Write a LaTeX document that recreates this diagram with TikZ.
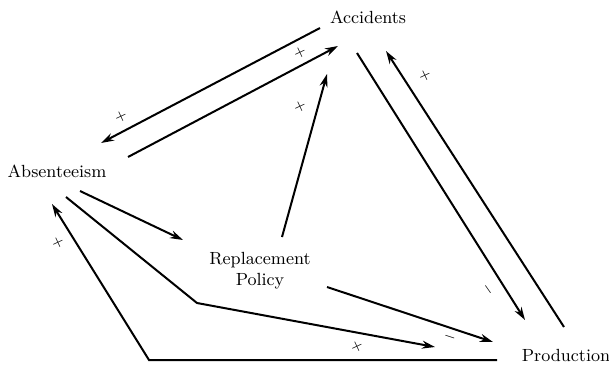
\documentclass[tikz,border=0pt]{standalone}
\usepackage{tikz}
\usetikzlibrary{arrows.meta, calc}

\begin{document}
\begin{tikzpicture}[
          x=0.5pt, y=-0.5pt,
          var/.style={inner sep=0pt, font=\fontsize{8.8}{10.5}\selectfont, align=center},
          arr/.style={-{Stealth[length=6.5pt, width=4pt]}, line width=1pt},
          sgn/.style={font=\scriptsize, inner sep=0pt},
        ]
        \useasboundingbox (0,0) rectangle (609,364);

        \node[var] (acc)  at (368,17)  {Accidents};
        \node[var] (abs)  at (57,171)  {Absenteeism};
        \node[var] (rep)  at (260,271) {Replacement\\Policy};
        \node[var] (prod) at (566,355) {Production};

        \coordinate (bendA) at (197,303);
        \coordinate (bendB) at (149,360);

        \draw[arr] ($(acc)+(-48,11)$)  -- ($(abs)+(44,-28)$);
        \draw[arr] ($(abs)+(71,-14)$)  -- ($(acc)+(-30,29)$);
        \draw[arr] ($(rep)+(22,-34)$)  -- ($(acc)+(-41,57)$);
        \draw[arr] ($(acc)+(-11,36)$)  -- ($(prod)+(-41,-35)$);
        \draw[arr] ($(prod)+(-2,-28)$) -- ($(acc)+(18,34)$);
        \draw[arr] ($(abs)+(23,20)$)   -- ($(rep)+(-77,-31)$);
        \draw[arr] ($(abs)+(9,26)$) -- (bendA) -- ($(prod)+(-131,-8)$);
        \draw[arr] ($(rep)+(67,16)$)   -- ($(prod)+(-73,-13)$);
        \draw[arr] ($(prod)+(-69,5)$) -- (bendB) -- ($(abs)+(-5,33)$);

        % signs
        \node[sgn, rotate=25] (s1) at (121,117) {$+$};
        \node[sgn, rotate=25] (s2) at (300,53)  {$+$};
        \node[sgn, rotate=25] (s3) at (300,107) {$+$};
        \node[sgn, rotate=25] (s4) at (425,76)  {$+$};
        \node[sgn, rotate=25] (s5) at (58,243)  {$+$};
        \node[sgn, rotate=25] (s6) at (357,347) {$+$};
        \node[sgn, rotate=-55] (s7) at (488,290) {$-$};
        \node[sgn, rotate=-18] (s8) at (450,337) {$-$};
      \end{tikzpicture}
\end{document}
